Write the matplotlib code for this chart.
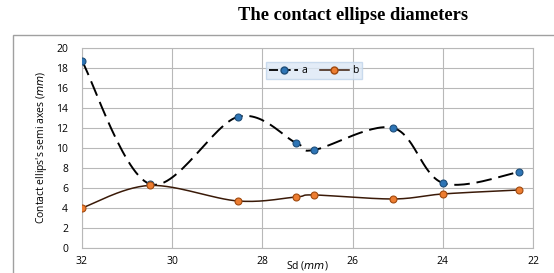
import numpy as np
import matplotlib.pyplot as plt
from matplotlib.patches import Rectangle

sd = [32, 30.5, 28.55, 27.25, 26.85, 25.1, 24, 22.3]
a_vals = [18.7, 6.4, 13.1, 10.5, 9.8, 12.0, 6.5, 7.6]
b_vals = [4.0, 6.25, 4.7, 5.1, 5.3, 4.9, 5.4, 5.8]
xticks = [32, 30, 28, 26, 24, 22]
yticks = [0, 2, 4, 6, 8, 10, 12, 14, 16, 18, 20]


def smooth(x, y, n=30, t=0.5):
    # catmull-rom style smoothing like excel's "smoothed line"
    x = np.asarray(x, float)
    y = np.asarray(y, float)
    px = np.concatenate([[x[0]], x, [x[-1]]])
    py = np.concatenate([[y[0]], y, [y[-1]]])
    xs, ys = [], []
    for i in range(1, len(px) - 2):
        p0, p1, p2, p3 = [np.array([px[j], py[j]]) for j in (i - 1, i, i + 1, i + 2)]
        m1 = t * (p2 - p0)
        m2 = t * (p3 - p1)
        s = np.linspace(0, 1, n)[:, None]
        h00 = 2 * s**3 - 3 * s**2 + 1
        h10 = s**3 - 2 * s**2 + s
        h01 = -2 * s**3 + 3 * s**2
        h11 = s**3 - s**2
        pts = h00 * p1 + h10 * m1 + h01 * p2 + h11 * m2
        xs.extend(pts[:, 0])
        ys.extend(pts[:, 1])
    return np.array(xs), np.array(ys)


plt.rcParams['font.family'] = ['Open Sans', 'DejaVu Sans']
fig = plt.figure(figsize=(5.54, 2.73), dpi=100)
fig.patches.append(Rectangle((0.023, -0.05), 1.0, 0.922, transform=fig.transFigure,
                             fill=False, edgecolor='#a0a0a0', linewidth=1.0))
fig.text(0.637, 0.942, 'The contact ellipse diameters', ha='center', va='center',
         fontsize=13.3, fontweight='bold', family='Liberation Serif')

ax = fig.add_axes([0.148, 0.0916, 0.814, 0.733])

xa, ya = smooth(sd, a_vals)
xb, yb = smooth(sd, b_vals)
ax.plot(xa, ya, color='black', linewidth=1.4, dashes=(8, 3.5), zorder=3)
ax.plot(sd, a_vals, linestyle='none', marker='o', markersize=5,
        markerfacecolor='#2e75b6', markeredgecolor='#1f4e79', markeredgewidth=0.8, zorder=4)
ax.plot(xb, yb, color='#3a1a08', linewidth=1.1, zorder=3)
ax.plot(sd, b_vals, linestyle='none', marker='o', markersize=5,
        markerfacecolor='#ed7d31', markeredgecolor='#a04a10', markeredgewidth=0.8, zorder=4)

# legend proxies
ax.plot([], [], color='black', linewidth=1.3, dashes=(5, 2), marker='o', markersize=5,
        markerfacecolor='#2e75b6', markeredgecolor='#1f4e79', label='a')
ax.plot([], [], color='#3a1a08', linewidth=1.1, marker='o', markersize=5,
        markerfacecolor='#ed7d31', markeredgecolor='#a04a10', label='b')
leg = ax.legend(loc='upper center', bbox_to_anchor=(0.514, 0.955), ncol=2, fontsize=7.5,
                frameon=True, handlelength=2.8, columnspacing=1.2, handletextpad=0.3,
                borderpad=0.3, fancybox=False)
leg.get_frame().set_facecolor('#dce8f5')
leg.get_frame().set_edgecolor('#c0d4ea')

ax.set_xlim(32, 22)
ax.set_ylim(0, 20)
ax.set_xticks(xticks)
ax.set_yticks(yticks)
ax.tick_params(labelsize=7.5, length=0)
ax.tick_params(axis='x', pad=6)
ax.tick_params(axis='y', pad=10)
ax.grid(True, color='#b8b8b8', linewidth=0.8)
for sp in ax.spines.values():
    sp.set_color('#b8b8b8')
    sp.set_linewidth(0.8)

ax.set_ylabel("Contact ellips's semi axes ($\\mathit{mm}$)", fontsize=7.5, labelpad=5)
fig.text(0.555, 0.028, "Sd ($\\mathit{mm}$)", ha='center', va='center', fontsize=7.5)

fig.savefig('out.png', dpi=100)
